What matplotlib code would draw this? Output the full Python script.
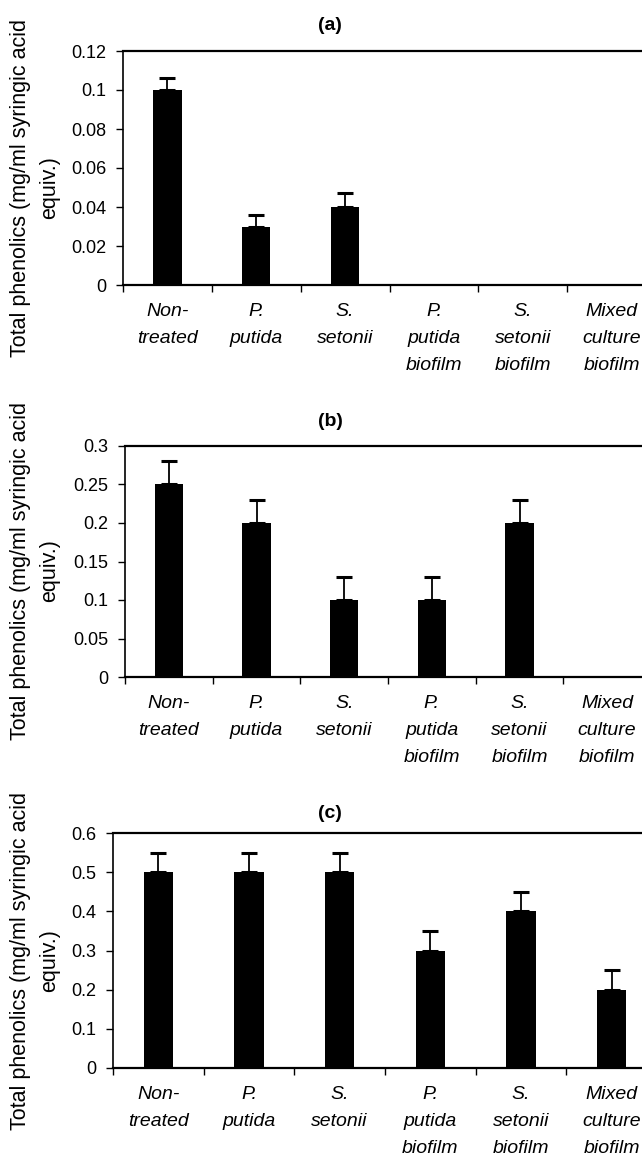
import numpy as np
import matplotlib.pyplot as plt
from matplotlib.ticker import FixedLocator

plt.rcParams['font.family'] = ['Liberation Sans', 'DejaVu Sans']

categories = ['Non-\ntreated', 'P.\nputida', 'S.\nsetonii',
              'P.\nputida\nbiofilm', 'S.\nsetonii\nbiofilm', 'Mixed\nculture\nbiofilm']

vals_a = [0.10, 0.03, 0.04, 0, 0, 0]
err_a = [0.006, 0.006, 0.007, 0, 0, 0]
vals_b = [0.25, 0.20, 0.10, 0.10, 0.20, 0]
err_b = [0.03, 0.03, 0.03, 0.03, 0.03, 0]
vals_c = [0.50, 0.50, 0.50, 0.30, 0.40, 0.20]
err_c = [0.05, 0.05, 0.05, 0.05, 0.05, 0.05]

yticks_a = [0, 0.02, 0.04, 0.06, 0.08, 0.1, 0.12]
yticks_b = [0, 0.05, 0.1, 0.15, 0.2, 0.25, 0.3]
yticks_c = [0, 0.1, 0.2, 0.3, 0.4, 0.5, 0.6]
ylabels_a = ['0', '0.02', '0.04', '0.06', '0.08', '0.1', '0.12']
ylabels_b = ['0', '0.05', '0.1', '0.15', '0.2', '0.25', '0.3']
ylabels_c = ['0', '0.1', '0.2', '0.3', '0.4', '0.5', '0.6']

W, H = 642, 1159
fig = plt.figure(figsize=(W / 100, H / 100), dpi=100)

# pixel boxes: left, top, right, bottom (right side runs past the image edge)
panels = [
    ('(a)', vals_a, err_a, yticks_a, ylabels_a, (123, 51, 656, 285), 25, 188),
    ('(b)', vals_b, err_b, yticks_b, ylabels_b, (125, 446, 651, 677), 421, 571),
    ('(c)', vals_c, err_c, yticks_c, ylabels_c, (113, 833, 657, 1068), 814, 961),
]

ylab = 'Total phenolics (mg/ml syringic acid\nequiv.)'
x = np.arange(len(categories))
for title, vals, errs, yt, yl, (l, t, r, b), ty, ly in panels:
    ax = fig.add_axes([l / W, 1 - b / H, (r - l) / W, (b - t) / H])
    ax.bar(x, vals, width=0.32, color='black', zorder=2)
    for xi, v, e in zip(x, vals, errs):
        if e > 0:
            ax.errorbar(xi, v, yerr=[[0], [e]], fmt='none', ecolor='black',
                        elinewidth=1.3, capsize=5.5, capthick=2.2, zorder=3)
    ax.set_xlim(-0.5, len(categories) - 0.5)
    ax.set_ylim(yt[0], yt[-1])
    ax.set_yticks(yt)
    ax.set_yticklabels(yl, fontsize=13)
    ax.xaxis.set_major_locator(FixedLocator(np.arange(-0.5, len(categories))))
    ax.xaxis.set_minor_locator(FixedLocator(x))
    ax.set_xticklabels([], minor=False)
    ax.set_xticklabels(categories, minor=True, fontsize=14, style='italic',
                       va='top', linespacing=1.75)
    ax.tick_params(axis='x', which='major', direction='out', length=5, width=1)
    ax.tick_params(axis='x', which='minor', length=0, pad=13)
    ax.tick_params(axis='y', direction='out', length=5, width=1, pad=7)
    ax.spines['left'].set_linewidth(1.2)
    ax.spines['top'].set_linewidth(1.6)
    ax.spines['bottom'].set_linewidth(1.6)
    ax.spines['right'].set_visible(False)
    fig.text(330 / W, 1 - ty / H, title, ha='center', va='center',
             fontsize=14, fontweight='bold')
    fig.text(35 / W, 1 - ly / H, ylab, rotation=90, ha='center', va='center',
             multialignment='center', fontsize=15.5, linespacing=1.55)

fig.savefig('out.png', dpi=100)
